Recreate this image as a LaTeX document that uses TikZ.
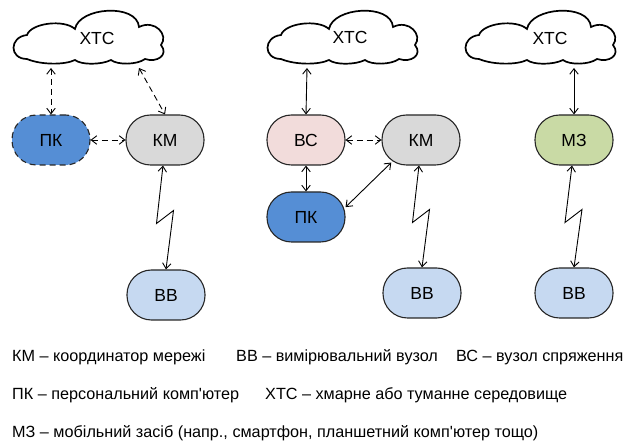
\documentclass[tikz,border=0pt]{standalone}
\usepackage{fontspec}
\newfontfamily\lf{Liberation Sans}
\usetikzlibrary{arrows.meta,calc}
\definecolor{pkblue}{HTML}{558ED5}
\definecolor{kmgray}{HTML}{D9D9D9}
\definecolor{bbblue}{HTML}{C6D9F1}
\definecolor{bcpink}{HTML}{F2DCDB}
\definecolor{mzgreen}{HTML}{C9DAA5}
\newcommand\mycloudshape{%
  (-62,22) .. controls (-80,22) and (-80,0) .. (-62,-2)
  .. controls (-58,-14) and (-25,-18) .. (-14,-8)
  .. controls (-10,-30) and (48,-34) .. (50,-10)
  .. controls (66,-18) and (80,-2) .. (72,8)
  .. controls (80,18) and (68,26) .. (56,22)
  .. controls (48,28) and (28,28) .. (22,23)
  .. controls (12,28) and (-8,28) .. (-14,23)
  .. controls (-24,28) and (-48,28) .. (-62,22) -- cycle}
\begin{document}
\begin{tikzpicture}[x=1pt,y=-1pt,
  nd/.style={draw=black!85, line width=1.1pt, rounded corners=24.5pt, minimum width=78pt, minimum height=50pt, inner sep=0pt, font=\lf\fontsize{17.5}{20}\selectfont},
  cloudline/.style={draw=black, line width=1.7pt, fill=white},
  cloudtext/.style={font=\lf\fontsize{17.5}{20}\selectfont},
  link/.style={line width=0.9pt, {Straight Barb[length=5.5pt,width=8.5pt]}-{Straight Barb[length=5.5pt,width=8.5pt]}},
  dlink/.style={link, dash pattern=on 6pt off 4pt},
  leg/.style={anchor=base west, inner sep=0pt, font=\lf\fontsize{16.2}{19}\selectfont}]
\useasboundingbox (0,0) rectangle (627,443);
% clouds
\foreach \cx/\cy in {89/37, 343/37, 541/37}{
  \begin{scope}[shift={(\cx,\cy)}]
    \path[cloudline] \mycloudshape;
  \end{scope}}
\node[cloudtext] (x1) at (97,38) {ХТС};
\node[cloudtext] (x2) at (350,37) {ХТС};
\node[cloudtext] (x3) at (550,38) {ХТС};
\coordinate (x1a) at (51,68);
\coordinate (x1b) at (139,68);
\coordinate (x2a) at (307,68);
\coordinate (x3a) at (574,68);
% nodes, group 1
\node[nd, fill=pkblue, dashed, dash pattern=on 6pt off 4pt] (pk1) at (51,140) {ПК};
\node[nd, fill=kmgray] (km1) at (165,140) {КМ};
\node[nd, fill=bbblue] (bb1) at (166,295) {ВВ};
% group 2
\node[nd, fill=bcpink] (bc2) at (306,140) {ВС};
\node[nd, fill=kmgray] (km2) at (421,140) {КМ};
\node[nd, fill=pkblue] (pk2) at (306,217) {ПК};
\node[nd, fill=bbblue] (bb2) at (422,293) {ВВ};
% group 3
\node[nd, fill=mzgreen] (mz3) at (574,140) {МЗ};
\node[nd, fill=bbblue] (bb3) at (574,293) {ВВ};
% connectors
\draw[dlink] (x1a) -- (pk1.north);
\draw[dlink] (x1b) -- (km1.north);
\draw[dlink] (pk1.east) -- (km1.west);
\draw[link] (x2a) -- (bc2.north);
\draw[dlink] (bc2.east) -- (km2.west);
\draw[link] (bc2.south) -- (pk2.north);
\draw[link] (pk2.14) -- ($(km2.218)+(3,-3)$);
\draw[link] (x3a) -- (mz3.north);
\foreach \a/\b in {km1/bb1, km2/bb2, mz3/bb3}{
  \draw[link] ($(\a.south)+(-2,0)$) -- ($(\a.south)!0.5!(\b.north)+(-9,6)$)
     -- ($(\a.south)!0.5!(\b.north)+(8,-7)$) -- ($(\b.north)+(0,0)$);
}
% legend
\node[leg] (l1) at (12,362) {КМ – координатор мережі};
\node[leg] (l2) at (236,362) {ВВ – вимірювальний вузол};
\node[leg] (l3) at (456,362) {ВС – вузол спряження};
\node[leg] (l4) at (12,400) {ПК – персональний комп'ютер};
\node[leg] (l5) at (265,400) {ХТС – хмарне або туманне середовище};
\node[leg] (l6) at (12,438) {МЗ – мобільний засіб (напр., смартфон, планшетний комп'ютер тощо)};
\end{tikzpicture}
\end{document}
